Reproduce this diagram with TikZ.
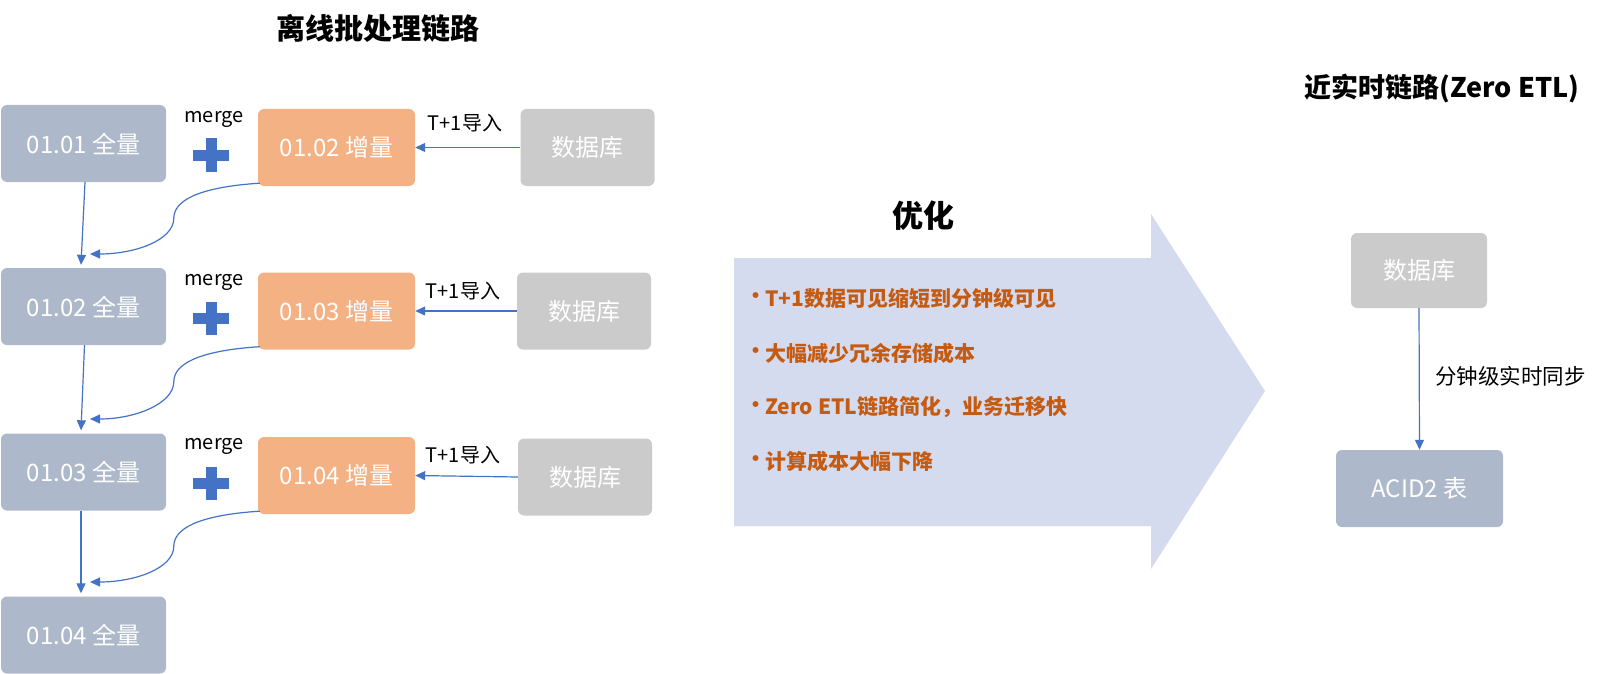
\documentclass[tikz,border=0pt]{standalone}
\usepackage{fontspec}
\setmainfont{Noto Sans CJK SC}
\usetikzlibrary{arrows.meta}
\definecolor{fullc}{HTML}{ADB9CA}
\definecolor{incrc}{HTML}{F4B183}
\definecolor{dbc}{HTML}{CBCBCB}
\definecolor{linec}{HTML}{4472C4}
\definecolor{bigc}{HTML}{D5DBEE}
\definecolor{bulc}{HTML}{C55A11}
\tikzset{
  base/.style={rounded corners=6pt, minimum height=77pt, inner sep=0pt, text=white, font=\fontsize{24}{28}\selectfont},
  fullbox/.style={base, fill=fullc, minimum width=165pt},
  incrbox/.style={base, fill=incrc, minimum width=157pt},
  dbbox/.style={base, fill=dbc, minimum width=134pt},
  acidbox/.style={base, fill=fullc, minimum width=167pt},
  conn/.style={draw=linec, line width=1.2pt, -{Triangle[length=10pt,width=9pt]}},
  lbl/.style={text=black, inner sep=0pt, font=\fontsize{20}{24}\selectfont},
  ttl/.style={text=black, inner sep=0pt, font=\fontsize{29}{34}\selectfont\bfseries},
  bul/.style={text=bulc, inner sep=0pt, anchor=west, font=\fontsize{21}{25}\selectfont\bfseries},
  plusbar/.style={fill=linec}
}
\begin{document}
\begin{tikzpicture}[x=1pt,y=-1pt]
\useasboundingbox (0,0) rectangle (1600,674);

% titles
\node[ttl] (t1) at (378,28) {离线批处理链路};
\node[ttl, font=\fontsize{31}{36}\selectfont\bfseries] (t2) at (923,216) {优化};
\node[ttl, font=\fontsize{27}{32}\selectfont\bfseries] (t3) at (1442,89) {近实时链路(Zero ETL)};

% big arrow
\fill[bigc] (734,258) -- (1151,258) -- (1151,214) -- (1265,391) -- (1151,569) -- (1151,526) -- (734,526) -- cycle;
\foreach \yy/\tx [count=\k] in {298/{T+1数据可见缩短到分钟级可见},353/{大幅减少冗余存储成本},407/{Zero ETL链路简化，业务迁移快},461/{计算成本大幅下降}}{
  \node[bul] (b\k) at (745,\yy) {•};
  \node[bul] (bt\k) at (765,\yy) {\tx};
}

% left: full boxes
\node[fullbox] (q1) at (83.5,143.5) {01.01 全量};
\node[fullbox] (q2) at (83.5,306.5) {01.02 全量};
\node[fullbox] (q3) at (83.5,472) {01.03 全量};
\node[fullbox] (q4) at (83.5,635) {01.04 全量};

% increments
\node[incrbox] (i1) at (336.5,147.5) {01.02 增量};
\node[incrbox] (i2) at (336.5,311) {01.03 增量};
\node[incrbox] (i3) at (336.5,475.5) {01.04 增量};

% databases
\node[dbbox] (d1) at (587.5,147.5) {数据库};
\node[dbbox] (d2) at (584,311) {数据库};
\node[dbbox] (d3) at (585,477) {数据库};

% labels
\node[lbl] (m1) at (214,119) {merge};
\node[lbl] (m2) at (214,282) {merge};
\node[lbl] (m3) at (214,446) {merge};
\node[lbl] (l1) at (465,123) {T+1导入};
\node[lbl] (l2) at (463,291) {T+1导入};
\node[lbl] (l3) at (463,455) {T+1导入};

% plus signs
\foreach \py in {155,318,483}{
  \fill[plusbar] (193,\py-5.5) rectangle (229,\py+5.5);
  \fill[plusbar] (206,\py-16.5) rectangle (216.5,\py+16.5);
}

% connectors
\draw[conn] (d1.west) -- (i1.east);
\draw[conn] (d2.west) -- (i2.east);
\draw[conn] (d3.west) -- (i3.east);
\draw[conn] ([xshift=1.5pt]q1.south) -- ([xshift=-2.5pt,yshift=3pt]q2.north);
\draw[conn] ([xshift=1pt]q2.south) -- ([xshift=-2.5pt,yshift=3pt]q3.north);
\draw[conn] ([xshift=-2.5pt]q3.south) -- ([xshift=-2.5pt,yshift=3pt]q4.north);
\coordinate (e1) at (90,254);
\coordinate (e2) at (90,419);
\coordinate (e3) at (90,582);
\foreach \i/\e in {i1/e1,i2/e2,i3/e3}{
  \draw[conn] ([xshift=2pt,yshift=3pt]\i.south west) .. controls +(-48,3) and +(0,-22) .. ++(-86,35) .. controls +(0,22) and +(45,0) .. (\e);
}

% right side
\node[dbbox, minimum width=136pt, minimum height=75pt] (rd) at (1419,270.5) {数据库};
\node[acidbox] (acid) at (1419.5,488.5) {ACID2 表};
\draw[conn] (rd.south) -- (acid.north);
\node[lbl, anchor=west, font=\fontsize{21.5}{25}\selectfont] (sync) at (1435,376) {分钟级实时同步};
\end{tikzpicture}
\end{document}
